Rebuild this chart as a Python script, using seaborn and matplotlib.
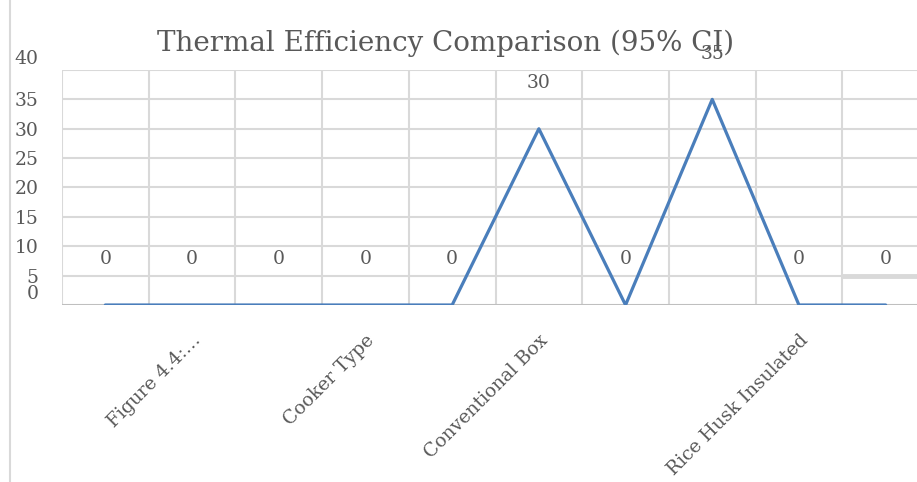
import matplotlib
matplotlib.use("Agg")
import matplotlib.pyplot as plt
import matplotlib.transforms as mtransforms
from matplotlib.lines import Line2D
import seaborn as sns
import pandas as pd

categories = ["c1", "c2", "c3", "c4", "c5", "c6", "c7", "c8", "c9", "c10"]
values = [0, 0, 0, 0, 0, 30, 0, 35, 0, 0]
tick_labels = ["", "Figure 4.4:…", "", "Cooker Type", "", "Conventional Box",
               "", "", "Rice Husk Insulated", ""]
y_ticks = [0, 5, 10, 15, 20, 25, 30, 35, 40]
title = "Thermal Efficiency Comparison (95% CI)"

sns.set_theme(style="white")
plt.rcParams["font.family"] = ["DejaVu Serif", "Liberation Serif"]

TXT = "#595959"
GRID = "#d9d9d9"
LINE = "#4a7ebb"

fig = plt.figure(figsize=(9.17, 4.82), dpi=100)
ax = fig.add_axes([62 / 917, 1 - 305 / 482, (929 - 62) / 917, (305 - 70) / 482])

df = pd.DataFrame({"x": list(range(len(categories))), "y": values})
sns.lineplot(data=df, x="x", y="y", ax=ax, color=LINE, linewidth=2.3, zorder=5)

ax.set_xlim(-0.5, len(categories) - 0.5)
ax.set_ylim(0, 40)

# grid
for b in range(len(categories) + 1):
    ax.axvline(b - 0.5, color=GRID, lw=1.5, zorder=1)
for yv in y_ticks[1:]:
    ax.axhline(yv, color=GRID, lw=1.5, zorder=1)
ax.axhline(0, color="#bfbfbf", lw=1.5, zorder=2)

for s in ax.spines.values():
    s.set_visible(False)

ax.set_xticks(range(len(categories)))
ax.set_xticklabels(tick_labels, rotation=45, ha="right", rotation_mode="anchor",
                   fontsize=13.5, color=TXT)
ax.tick_params(axis="x", length=0, pad=19)
ax.set_yticks(y_ticks)
ax.set_yticklabels([str(v) for v in y_ticks], fontsize=13.5, color=TXT)
ax.tick_params(axis="y", length=0, pad=17)
ax.set_xlabel("")
ax.set_ylabel("")

# quirky offsets of the 0 and 40 labels
for lab in ax.get_yticklabels():
    if lab.get_text() in ("0", "40"):
        lab.set_transform(lab.get_transform() +
                          mtransforms.ScaledTranslation(0, 13 / 100, fig.dpi_scale_trans))

# data labels
for i, v in enumerate(values):
    ax.annotate(str(v), (i, v), xytext=(0, 33), textcoords="offset points",
                ha="center", va="center", fontsize=13.5, color=TXT, zorder=6)

# grey short marker on right
ax.plot([8.5, 9.6], [5, 5], color=GRID, lw=3.5, zorder=3, solid_capstyle="butt")

fig.text(446 / 917, 1 - 43 / 482, title, ha="center", va="center",
         fontsize=20, color=TXT)

fig.add_artist(Line2D([10 / 917, 10 / 917], [0, 1], transform=fig.transFigure,
                      color=GRID, lw=1.5))

fig.savefig("out.png", dpi=100)
